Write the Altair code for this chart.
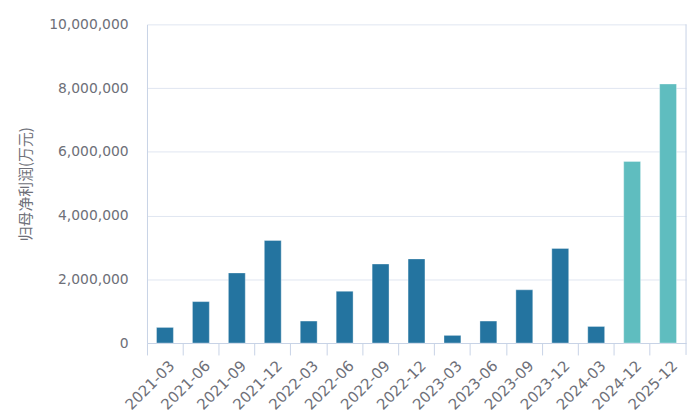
import altair as alt
import pandas as pd

periods = ["2021-03", "2021-06", "2021-09", "2021-12", "2022-03", "2022-06",
           "2022-09", "2022-12", "2023-03", "2023-06", "2023-09", "2023-12",
           "2024-03", "2024-12", "2025-12"]
values = [490000, 1300000, 2200000, 3220000, 690000, 1625000,
          2480000, 2640000, 240000, 690000, 1670000, 2970000,
          520000, 5700000, 8130000]
kinds = ["实际"] * 13 + ["预测"] * 2

df = pd.DataFrame({"period": periods, "value": values, "kind": kinds})

AXIS_COLOR = "#c8d3e6"
GRID_COLOR = "#e0e6f1"
LABEL_COLOR = "#6e7079"
W, H = 543, 321

x_axis = alt.Axis(bandPosition=0, labelAngle=-45, labelOffset=2,
                  tickSize=12, tickColor=AXIS_COLOR, domainColor=AXIS_COLOR,
                  labelColor=LABEL_COLOR, labelFont="DejaVu Sans",
                  labelFontSize=15, labelPadding=3, grid=False)

bars = alt.Chart(df).mark_bar(
    width=alt.RelativeBandSize(0.47), strokeWidth=1, strokeOpacity=0.35, stroke="white"
).encode(
    x=alt.X("period:N", sort=periods, title=None,
            scale=alt.Scale(paddingInner=0, paddingOuter=0),
            axis=x_axis),
    y=alt.Y("value:Q", title="归母净利润(万元)",
            scale=alt.Scale(domain=[0, 10000000]),
            axis=alt.Axis(values=[0, 2000000, 4000000, 6000000, 8000000, 10000000],
                          format=",d", ticks=False, tickSize=0, labelPadding=19,
                          domainColor=AXIS_COLOR, gridColor=GRID_COLOR,
                          labelColor=LABEL_COLOR, labelFont="DejaVu Sans",
                          labelFontSize=14, titleColor=LABEL_COLOR,
                          titleFont="Noto Sans CJK SC", titleFontSize=15,
                          titleFontWeight="normal", titlePadding=15)),
    color=alt.Color("kind:N", legend=None,
                    scale=alt.Scale(domain=["实际", "预测"], range=["#2474a0", "#5fbdbf"])),
)

last = alt.Chart(df.tail(1)).mark_rule(color=AXIS_COLOR, strokeWidth=1).encode(
    x=alt.X("period:N", sort=periods, bandPosition=1, title=None, axis=x_axis),
    y=alt.value(0),
    y2=alt.value(H + 12),
)

chart = alt.layer(bars, last).properties(
    width=W, height=H,
    padding={"left": 10, "top": 8, "right": 5, "bottom": 0},
).configure_view(stroke=None)

chart.save("out.html", embed_options={"renderer": "svg", "actions": False})
